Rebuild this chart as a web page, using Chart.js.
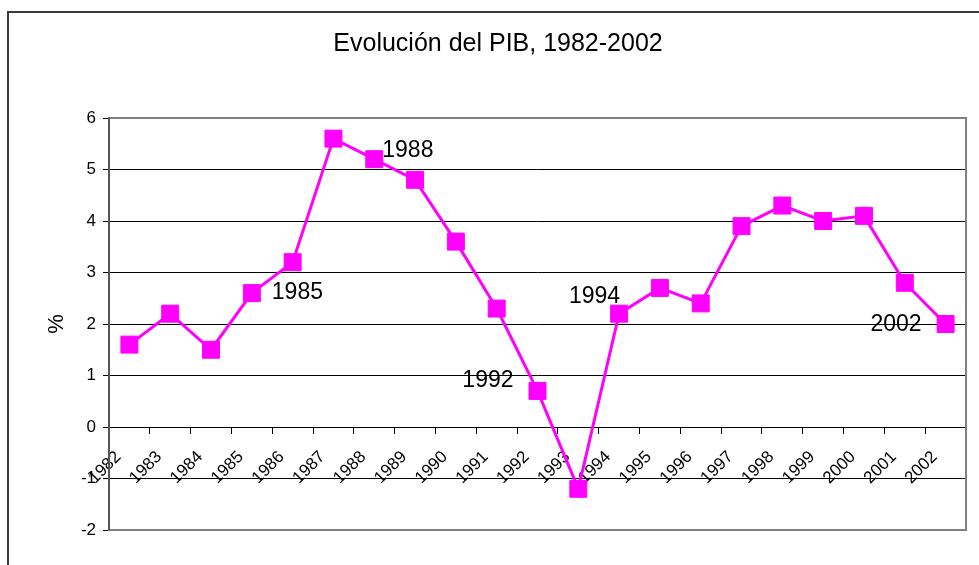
<!DOCTYPE html>
<html>
<head>
<meta charset="utf-8">
<title>Evolución del PIB, 1982-2002</title>
<script src="https://cdn.jsdelivr.net/npm/chart.js@4.4.1/dist/chart.umd.min.js"></script>
<style>
  html, body { margin: 0; padding: 0; background: #fff; overflow: hidden; }
  #wrap { position: relative; width: 979px; height: 565px; }
  #frame {
    position: absolute; left: 7px; top: 11px; right: -10px; bottom: -10px;
    border-left: 2px solid #3a3a3a; border-top: 2px solid #3a3a3a;
    pointer-events: none;
  }
</style>
</head>
<body>
<div id="wrap"><canvas id="pibChart"></canvas><div id="frame"></div></div>
<script>
'use strict';

// data
var years = ['1982', '1983', '1984', '1985', '1986', '1987', '1988', '1989', '1990', '1991', '1992',
             '1993', '1994', '1995', '1996', '1997', '1998', '1999', '2000', '2001', '2002'];
var pib = [1.6, 2.2, 1.5, 2.6, 3.2, 5.6, 5.2, 4.8, 3.6, 2.3, 0.7,
           -1.2, 2.2, 2.7, 2.4, 3.9, 4.3, 4.0, 4.1, 2.8, 2.0];
var labelledYears = ['1985', '1988', '1992', '1994', '2002'];
var yTicks = [-2, -1, 0, 1, 2, 3, 4, 5, 6];

var FONT = 'Arial, "Liberation Sans", Helvetica, sans-serif';

// where each point label sits relative to its marker
var labelPlacement = {
  '1985': { align: 'left', dx: 20, dy: 0 },
  '1988': { align: 'left', dx: 8, dy: -9 },
  '1992': { align: 'right', dx: -24, dy: -10 },
  '1994': { align: 'right', dx: 1, dy: -17 },
  '2002': { align: 'right', dx: -24, dy: 1 }
};

// grey box round the plot area
var plotBoxPlugin = {
  id: 'plotBox',
  beforeDatasetsDraw: function(chart) {
    var ctx = chart.ctx;
    var a = chart.chartArea;
    ctx.save();
    ctx.strokeStyle = '#808080';
    ctx.lineWidth = 2;
    ctx.strokeRect(a.left, a.top, a.right - a.left, a.bottom - a.top);
    ctx.strokeStyle = '#555555';
    ctx.beginPath();
    ctx.moveTo(a.left, a.top);
    ctx.lineTo(a.left, a.bottom);
    ctx.stroke();
    ctx.restore();
  }
};

// year labels next to some markers
var pointLabelPlugin = {
  id: 'pointLabels',
  afterDatasetsDraw: function(chart) {
    var ctx = chart.ctx;
    var meta = chart.getDatasetMeta(0);
    ctx.save();
    ctx.font = '23px ' + FONT;
    ctx.fillStyle = '#000';
    ctx.textBaseline = 'middle';
    labelledYears.forEach(function(y) {
      var i = years.indexOf(y);
      var pt = meta.data[i];
      var p = labelPlacement[y];
      ctx.textAlign = p.align;
      ctx.fillText(y, pt.x + p.dx, pt.y + p.dy);
    });
    ctx.restore();
  }
};

var ctx = document.getElementById('pibChart').getContext('2d');

var chart = new Chart(ctx, {
  type: 'line',
  data: {
    labels: years,
    datasets: [{
      label: 'PIB',
      data: pib,
      borderColor: '#ff00ff',
      backgroundColor: '#ff00ff',
      borderWidth: 3,
      tension: 0,
      pointStyle: 'rect',
      pointRadius: 12,
      pointBorderWidth: 1,
      pointBorderColor: '#ff00ff',
      pointBackgroundColor: '#ff00ff'
    }]
  },
  options: {
    responsive: true,
    maintainAspectRatio: false,
    animation: false,
    layout: {
      padding: { left: 30, right: 13, top: 0, bottom: 35 }
    },
    plugins: {
      legend: { display: false },
      tooltip: { enabled: false },
      title: {
        display: true,
        text: 'Evolución del PIB, 1982-2002',
        color: '#000',
        font: { family: FONT, size: 25, weight: 'normal' },
        padding: { top: 29, bottom: 59 }
      }
    },
    scales: {
      y: {
        min: -2,
        max: 6,
        afterFit: function(scale) { scale.width = 79; },
        afterBuildTicks: function(scale) {
          scale.ticks = yTicks.map(function(v) { return { value: v }; });
        },
        grid: {
          color: '#000',
          lineWidth: 1,
          tickLength: 6,
          drawTicks: true
        },
        border: { display: false },
        ticks: {
          color: '#000',
          padding: 7,
          font: { family: FONT, size: 17 }
        },
        title: {
          display: true,
          text: '%',
          color: '#000',
          font: { family: FONT, size: 22 },
          padding: { top: 14, bottom: 0 }
        }
      },
      x: {
        type: 'category',
        offset: true,
        position: { y: 0 },
        grid: {
          display: true,
          offset: true,
          drawOnChartArea: false,
          drawTicks: true,
          tickLength: 6,
          color: '#000'
        },
        border: { display: true, color: '#000', width: 1 },
        ticks: {
          color: '#000',
          autoSkip: false,
          minRotation: 45,
          maxRotation: 45,
          labelOffset: -11,
          padding: 14,
          font: { family: FONT, size: 17 }
        }
      }
    }
  },
  plugins: [plotBoxPlugin, pointLabelPlugin]
});
</script>
</body>
</html>
